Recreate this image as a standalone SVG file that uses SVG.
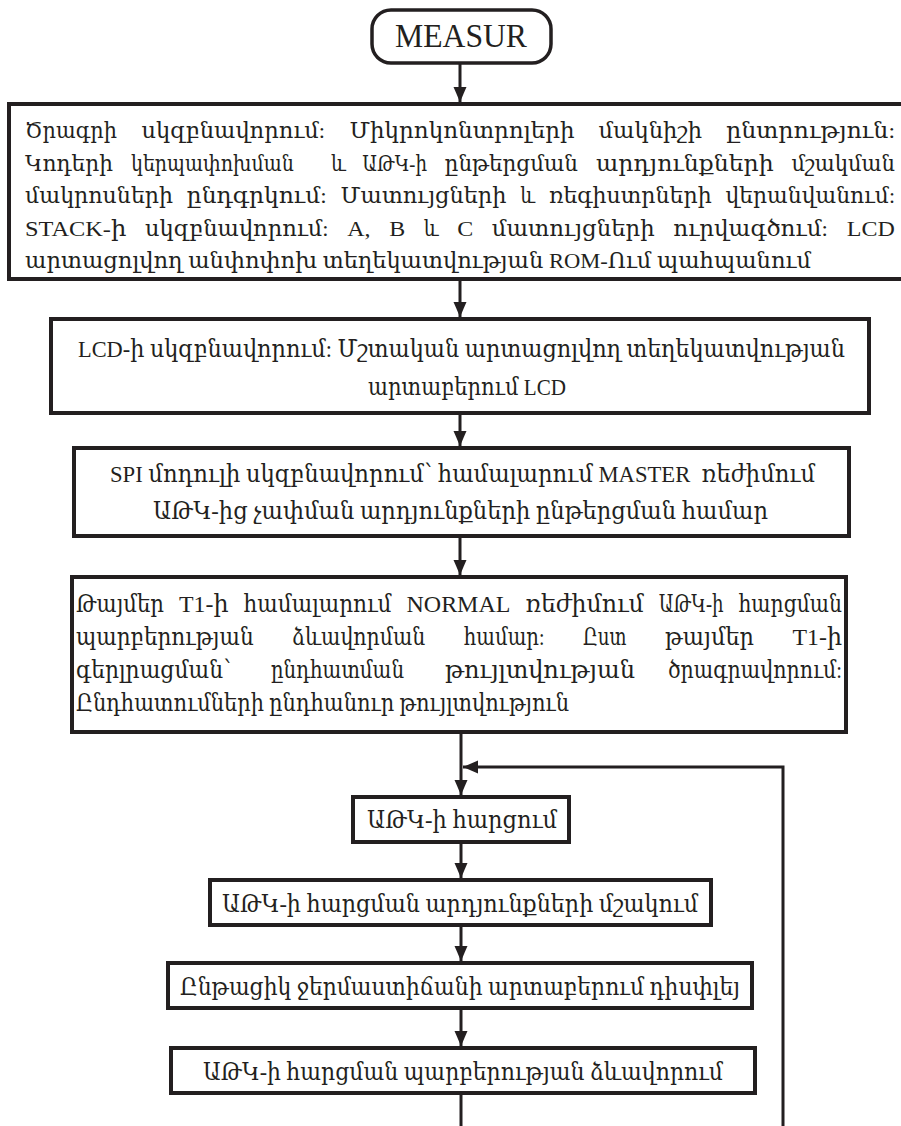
<svg xmlns="http://www.w3.org/2000/svg" width="901" height="1126" viewBox="0 0 901 1126">
<style>
.box{fill:#fff;stroke:#231f20;stroke-width:4}
.term{fill:#fff;stroke:#231f20;stroke-width:3.5}
.t{font-family:"Liberation Serif","DejaVu Serif",serif;font-size:24px;fill:#231f20}
.s{font-size:22px}
.m{text-anchor:middle}
.ln{stroke:#231f20;stroke-width:3;fill:none}
</style>
<defs>
<marker id="ah" markerUnits="userSpaceOnUse" markerWidth="16" markerHeight="14" refX="15" refY="6.5" orient="auto">
<path d="M0,0 L15,6.5 L0,13 z" fill="#231f20"/>
</marker>
</defs>
<rect width="901" height="1126" fill="#fff"/>

<g id="connectors">
<line class="ln" x1="460" y1="63" x2="460" y2="102" marker-end="url(#ah)"/>
<line class="ln" x1="460" y1="279" x2="460" y2="317" marker-end="url(#ah)"/>
<line class="ln" x1="460" y1="413" x2="460" y2="446" marker-end="url(#ah)"/>
<line class="ln" x1="460" y1="536" x2="460" y2="575" marker-end="url(#ah)"/>
<line class="ln" x1="461" y1="732" x2="461" y2="795" marker-end="url(#ah)"/>
<polyline class="ln" points="783,1126 783,767 463,767" marker-end="url(#ah)"/>
<line class="ln" x1="461" y1="842" x2="461" y2="878" marker-end="url(#ah)"/>
<line class="ln" x1="461" y1="925" x2="461" y2="961" marker-end="url(#ah)"/>
<line class="ln" x1="461" y1="1008" x2="461" y2="1046" marker-end="url(#ah)"/>
<line class="ln" x1="461" y1="1093" x2="461" y2="1126"/>
</g>

<g id="start">
<rect class="term" x="372" y="10" width="179" height="53" rx="19"/>
<text class="t m" x="461" y="47" style="font-size:33px" textLength="132" lengthAdjust="spacingAndGlyphs">MEASUR</text>
</g>

<g id="init">
<rect class="box" x="9" y="104" width="905" height="175"/>
<g class="t s">
<text x="25" y="138" textLength="92" lengthAdjust="spacingAndGlyphs">Ծրագրի</text>
<text x="141.5" y="138" textLength="183.6" lengthAdjust="spacingAndGlyphs">սկզբնավորում:</text>
<text x="349.4" y="138" textLength="225.2" lengthAdjust="spacingAndGlyphs">Միկրոկոնտրոլերի</text>
<text x="598.5" y="138" textLength="103.6" lengthAdjust="spacingAndGlyphs">մակնիշի</text>
<text x="726.2" y="138" textLength="168.8" lengthAdjust="spacingAndGlyphs">ընտրություն:</text>

<text x="25" y="170.5" textLength="88" lengthAdjust="spacingAndGlyphs">Կոդերի</text>
<text x="131" y="170.5" textLength="162.8" lengthAdjust="spacingAndGlyphs">կերպափոխման</text>
<text x="331" y="170.5" textLength="14.8" lengthAdjust="spacingAndGlyphs">և</text>
<text x="362.2" y="170.5" textLength="64.8" lengthAdjust="spacingAndGlyphs">ԱԹԿ-ի</text>
<text x="444.8" y="170.5" textLength="133.2" lengthAdjust="spacingAndGlyphs">ընթերցման</text>
<text x="596" y="170.5" textLength="177.6" lengthAdjust="spacingAndGlyphs">արդյունքների</text>
<text x="791.4" y="170.5" textLength="103.6" lengthAdjust="spacingAndGlyphs">մշակման</text>

<text x="25" y="203" textLength="148" lengthAdjust="spacingAndGlyphs">մակրոսների</text>
<text x="186.8" y="203" textLength="139.9" lengthAdjust="spacingAndGlyphs">ընդգրկում:</text>
<text x="340.5" y="203" textLength="166" lengthAdjust="spacingAndGlyphs">Մատույցների</text>
<text x="520.3" y="203" textLength="14.8" lengthAdjust="spacingAndGlyphs">և</text>
<text x="548.9" y="203" textLength="162.8" lengthAdjust="spacingAndGlyphs">ռեգիստրների</text>
<text x="725.5" y="203" textLength="169.5" lengthAdjust="spacingAndGlyphs">վերանվանում:</text>

<text x="25" y="235.5" textLength="101.4" lengthAdjust="spacingAndGlyphs">STACK-ի</text>
<text x="145" y="235.5" textLength="183.6" lengthAdjust="spacingAndGlyphs">սկզբնավորում:</text>
<text x="347.3" y="235.5" textLength="23.3" lengthAdjust="spacingAndGlyphs">A,</text>
<text x="389.2" y="235.5" textLength="16" lengthAdjust="spacingAndGlyphs">B</text>
<text x="423.8" y="235.5" textLength="14.8" lengthAdjust="spacingAndGlyphs">և</text>
<text x="457.2" y="235.5" textLength="16" lengthAdjust="spacingAndGlyphs">C</text>
<text x="491.8" y="235.5" textLength="162.8" lengthAdjust="spacingAndGlyphs">մատույցների</text>
<text x="673.2" y="235.5" textLength="154.7" lengthAdjust="spacingAndGlyphs">ուրվագծում:</text>
<text x="846.8" y="235.5" textLength="48" lengthAdjust="spacingAndGlyphs">LCD</text>

<text x="25" y="268" textLength="786" lengthAdjust="spacingAndGlyphs">արտացոլվող անփոփոխ տեղեկատվության ROM-Ում պահպանում</text>
</g>
</g>

<g id="lcd-init">
<rect class="box" x="51" y="319" width="818" height="94"/>
<text class="t" x="78" y="357" textLength="767" lengthAdjust="spacingAndGlyphs">LCD-ի սկզբնավորում: Մշտական արտացոլվող տեղեկատվության</text>
<text class="t" x="368" y="395" textLength="198" lengthAdjust="spacingAndGlyphs">արտաբերում LCD</text>
</g>

<g id="spi-init">
<rect class="box" x="74" y="448" width="775" height="88"/>
<text class="t" xml:space="preserve" x="110" y="482" textLength="705" lengthAdjust="spacingAndGlyphs">SPI մոդուլի սկզբնավորում՝ համալարում MASTER  ռեժիմում</text>
<text class="t" x="153" y="519" textLength="615" lengthAdjust="spacingAndGlyphs">ԱԹԿ-ից չափման արդյունքների ընթերցման համար</text>
</g>

<g id="timer-init">
<rect class="box" x="72" y="577" width="774" height="155"/>
<g class="t">
<text x="76" y="612" textLength="88" lengthAdjust="spacingAndGlyphs">Թայմեր</text>
<text x="179" y="612" textLength="49.5" lengthAdjust="spacingAndGlyphs">T1-ի</text>
<text x="243.5" y="612" textLength="148" lengthAdjust="spacingAndGlyphs">համալարում</text>
<text x="406.5" y="612" textLength="103.9" lengthAdjust="spacingAndGlyphs">NORMAL</text>
<text x="525.4" y="612" textLength="118.4" lengthAdjust="spacingAndGlyphs">ռեժիմում</text>
<text x="658.8" y="612" textLength="64.8" lengthAdjust="spacingAndGlyphs">ԱԹԿ-ի</text>
<text x="842" y="612" text-anchor="end" textLength="103.6" lengthAdjust="spacingAndGlyphs">հարցման</text>

<text x="76" y="645" textLength="177.6" lengthAdjust="spacingAndGlyphs">պարբերության</text>
<text x="292.1" y="645" textLength="133.2" lengthAdjust="spacingAndGlyphs">ձևավորման</text>
<text x="463.8" y="645" textLength="80.7" lengthAdjust="spacingAndGlyphs">համար:</text>
<text x="583" y="645" textLength="43.6" lengthAdjust="spacingAndGlyphs">Ըստ</text>
<text x="665.1" y="645" textLength="88.8" lengthAdjust="spacingAndGlyphs">թայմեր</text>
<text x="842" y="645" text-anchor="end" textLength="49.5" lengthAdjust="spacingAndGlyphs">T1-ի</text>

<text x="76" y="678" textLength="155" lengthAdjust="spacingAndGlyphs">գերլրացման՝</text>
<text x="271" y="678" textLength="133" lengthAdjust="spacingAndGlyphs">ընդհատման</text>
<text x="445" y="678" textLength="190" lengthAdjust="spacingAndGlyphs">թույլտվության</text>
<text x="842" y="678" text-anchor="end" textLength="174" lengthAdjust="spacingAndGlyphs">ծրագրավորում:</text>

<text x="76" y="711" textLength="493" lengthAdjust="spacingAndGlyphs">Ընդհատումների ընդհանուր թույլտվություն</text>
</g>
</g>

<g id="adc-poll">
<rect class="box" x="353" y="797" width="216" height="45"/>
<text class="t" x="367" y="828" textLength="190" lengthAdjust="spacingAndGlyphs">ԱԹԿ-ի հարցում</text>
</g>

<g id="adc-process">
<rect class="box" x="210" y="880" width="501" height="45"/>
<text class="t" x="222" y="912" textLength="476" lengthAdjust="spacingAndGlyphs">ԱԹԿ-ի հարցման արդյունքների մշակում</text>
</g>

<g id="display-temp">
<rect class="box" x="168" y="963" width="584" height="45"/>
<text class="t" x="180" y="995" textLength="560" lengthAdjust="spacingAndGlyphs">Ընթացիկ ջերմաստիճանի արտաբերում դիսփլեյ</text>
</g>

<g id="poll-period">
<rect class="box" x="171" y="1048" width="584" height="45"/>
<text class="t" x="203" y="1080" textLength="520" lengthAdjust="spacingAndGlyphs">ԱԹԿ-ի հարցման պարբերության ձևավորում</text>
</g>
</svg>
